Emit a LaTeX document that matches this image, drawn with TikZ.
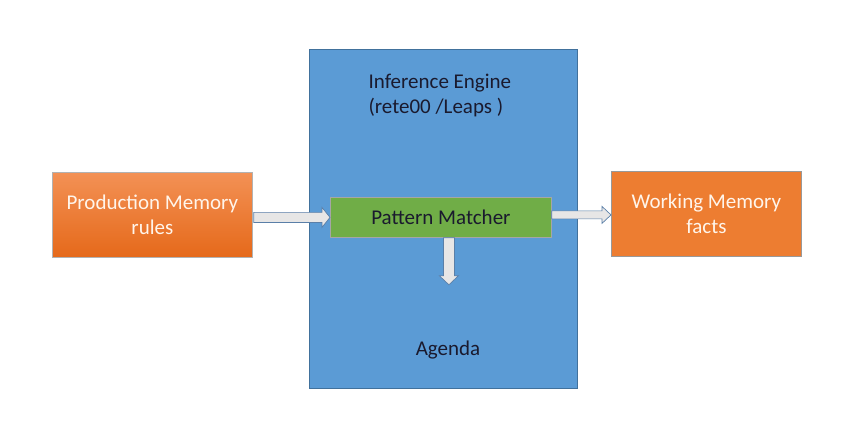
\documentclass[tikz,border=0pt]{standalone}
\usepackage{fontspec}
\setmainfont{Carlito}
\usetikzlibrary{calc}
\definecolor{engblue}{HTML}{5B9BD5}
\definecolor{engborder}{HTML}{41719C}
\definecolor{orangeA}{HTML}{F39155}
\definecolor{orangeB}{HTML}{E5691A}
\definecolor{orangeC}{HTML}{ED7D31}
\definecolor{pmgreen}{HTML}{70AD47}
\definecolor{arrfill}{HTML}{E7E6E6}
\definecolor{arrdraw}{HTML}{5A7FA8}
\definecolor{darktext}{HTML}{1A1A2E}
\tikzset{
  x=1pt, y=-1pt,
  box/.style={draw=gray!70, line width=0.8pt, inner sep=0pt, anchor=north west},
  lbl/.style={font=\fontsize{21}{25}\selectfont, align=center},
  blockarrow/.style={fill=arrfill, draw=arrdraw, line width=0.7pt, line join=miter}
}
\begin{document}
\begin{tikzpicture}
\useasboundingbox (0,0) rectangle (858,438);
% engine
\node[box, draw=engborder, fill=engblue, minimum width=268pt, minimum height=339pt] (eng) at (309,49) {};
\node[lbl, anchor=west, align=left, text=darktext] (engt) at (365,95) {Inference Engine\\(rete00 /Leaps )};
\node[lbl, text=darktext] (agenda) at (448,350) {Agenda};
% production memory
\node[box, top color=orangeA, bottom color=orangeB, draw=gray!60, minimum width=200pt, minimum height=85pt] (prod) at (52,172) {};
\node[lbl, text=white!92!orange] at (prod.center) {Production Memory\\rules};
% working memory
\node[box, fill=orangeC, draw=gray!80, minimum width=190pt, minimum height=85pt] (work) at (611,171) {};
\node[lbl, text=white!92!orange] at (work.center) {Working Memory\\facts};
% pattern matcher
\node[box, fill=pmgreen, draw=gray!70, minimum width=221pt, minimum height=40pt] (pm) at (330,197) {};
\node[lbl, text=darktext] (pmt) at (pm.center) {Pattern Matcher};
% left arrow: production -> pattern matcher
\coordinate (la) at ($(prod.east|-pm.west)+(1,0)$);
\draw[blockarrow] ($(la)+(0,-5)$) -- ($(pm.west)+(-8,-5)$) -- ($(pm.west)+(-8,-10)$) -- (pm.west)
  -- ($(pm.west)+(-8,10)$) -- ($(pm.west)+(-8,5)$) -- ($(la)+(0,5)$) -- cycle;
% right arrow: pattern matcher -> working memory
\coordinate (ra) at ($(pm.east)+(0,-2.5)$);
\coordinate (rtip) at (work.west|-ra);
\draw[blockarrow] ($(ra)+(0,-4)$) -- ($(rtip)+(-9,-4)$) -- ($(rtip)+(-9,-8.5)$) -- (rtip)
  -- ($(rtip)+(-9,8.5)$) -- ($(rtip)+(-9,4)$) -- ($(ra)+(0,4)$) -- cycle;
% down arrow: pattern matcher -> agenda
\coordinate (da) at ($(pm.south)+(8,0)$);
\coordinate (dtip) at ($(da)+(0,47)$);
\draw[blockarrow] ($(da)+(-5.5,0)$) -- ($(dtip)+(-5.5,-9)$) -- ($(dtip)+(-9.5,-9)$) -- (dtip)
  -- ($(dtip)+(9.5,-9)$) -- ($(dtip)+(5.5,-9)$) -- ($(da)+(5.5,0)$) -- cycle;
\end{tikzpicture}
\end{document}
